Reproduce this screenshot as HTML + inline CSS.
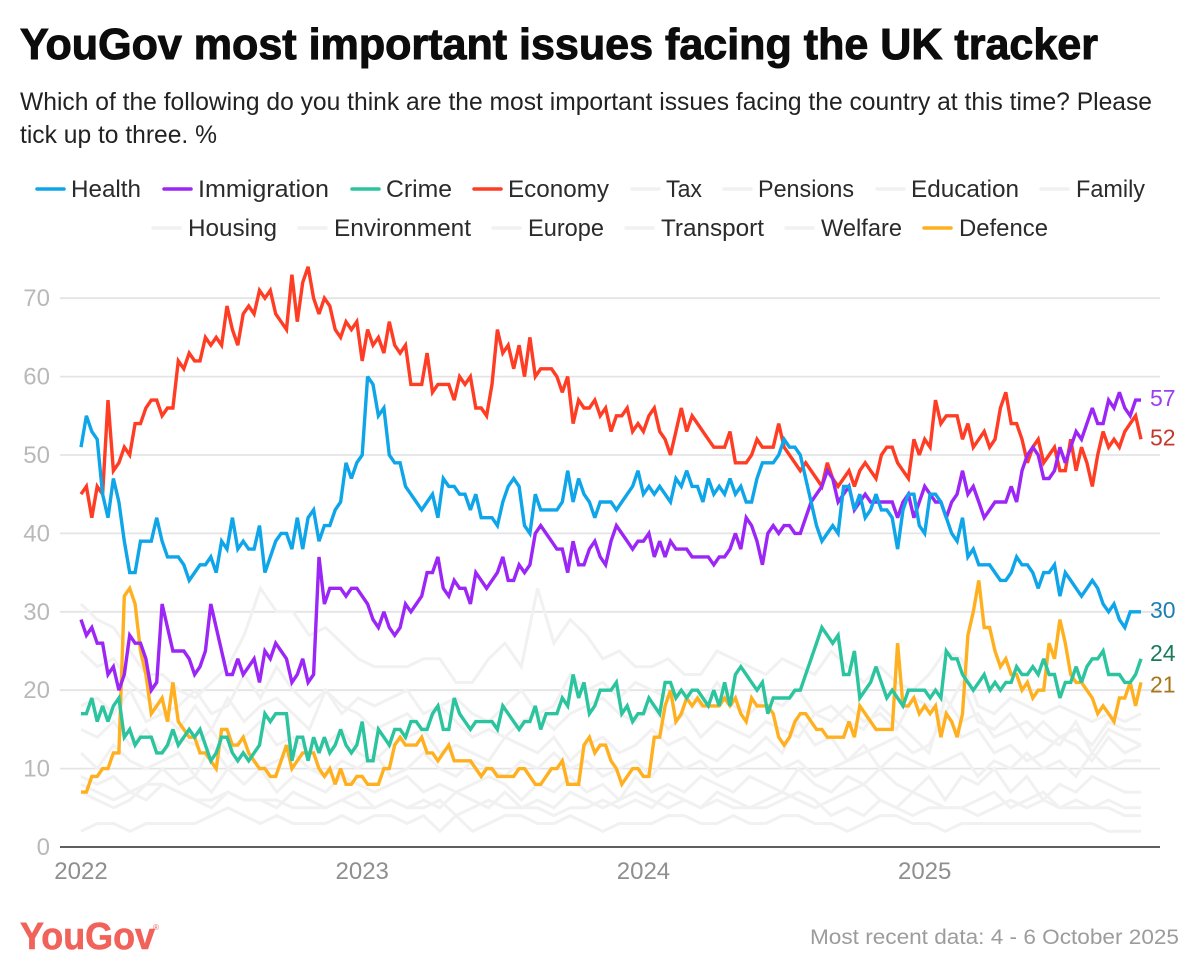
<!DOCTYPE html>
<html lang="en">
<head>
<meta charset="utf-8">
<title>YouGov most important issues facing the UK tracker</title>
<style>
html,body{margin:0;padding:0;background:#fff;width:1199px;height:975px;overflow:hidden}
svg{display:block;font-family:"Liberation Sans",sans-serif}
.lg{font-size:24px;fill:#2b2b2b}
</style>
</head>
<body>
<svg id="chart" xmlns="http://www.w3.org/2000/svg" width="1199" height="975" viewBox="0 0 1199 975">
<rect width="1199" height="975" fill="#fff"/>
<text x="20" y="59" font-size="44" font-weight="700" fill="#0c0c0c" stroke="#0c0c0c" stroke-width="1" textLength="1078" lengthAdjust="spacingAndGlyphs">YouGov most important issues facing the UK tracker</text>
<text x="20" y="110" font-size="25" fill="#222" textLength="1132" lengthAdjust="spacingAndGlyphs">Which of the following do you think are the most important issues facing the country at this time? Please</text>
<text x="20" y="143" font-size="25" fill="#222" textLength="197" lengthAdjust="spacingAndGlyphs">tick up to three. %</text>

<g stroke-linecap="round">
<g><line x1="37" x2="64" y1="189" y2="189" stroke="#0ea5e9" stroke-width="3.5"/><text class="lg" x="71" y="197" textLength="70" lengthAdjust="spacingAndGlyphs">Health</text></g>
<g><line x1="164" x2="191" y1="189" y2="189" stroke="#9b26f6" stroke-width="3.5"/><text class="lg" x="198" y="197" textLength="131" lengthAdjust="spacingAndGlyphs">Immigration</text></g>
<g><line x1="352" x2="379" y1="189" y2="189" stroke="#2cc49e" stroke-width="3.5"/><text class="lg" x="386" y="197" textLength="66" lengthAdjust="spacingAndGlyphs">Crime</text></g>
<g><line x1="474" x2="501" y1="189" y2="189" stroke="#ff3d24" stroke-width="3.5"/><text class="lg" x="508" y="197" textLength="101" lengthAdjust="spacingAndGlyphs">Economy</text></g>
<g><line x1="632" x2="659" y1="189" y2="189" stroke="#f1f1f1" stroke-width="3.5"/><text class="lg" x="666" y="197" textLength="36" lengthAdjust="spacingAndGlyphs">Tax</text></g>
<g><line x1="724" x2="751" y1="189" y2="189" stroke="#f1f1f1" stroke-width="3.5"/><text class="lg" x="758" y="197" textLength="96" lengthAdjust="spacingAndGlyphs">Pensions</text></g>
<g><line x1="877" x2="904" y1="189" y2="189" stroke="#f1f1f1" stroke-width="3.5"/><text class="lg" x="911" y="197" textLength="108" lengthAdjust="spacingAndGlyphs">Education</text></g>
<g><line x1="1041" x2="1068" y1="189" y2="189" stroke="#f1f1f1" stroke-width="3.5"/><text class="lg" x="1076" y="197" textLength="69" lengthAdjust="spacingAndGlyphs">Family</text></g>
<g><line x1="153" x2="180" y1="228" y2="228" stroke="#f1f1f1" stroke-width="3.5"/><text class="lg" x="188" y="236" textLength="89" lengthAdjust="spacingAndGlyphs">Housing</text></g>
<g><line x1="299" x2="326" y1="228" y2="228" stroke="#f1f1f1" stroke-width="3.5"/><text class="lg" x="334" y="236" textLength="137" lengthAdjust="spacingAndGlyphs">Environment</text></g>
<g><line x1="493" x2="520" y1="228" y2="228" stroke="#f1f1f1" stroke-width="3.5"/><text class="lg" x="528" y="236" textLength="76" lengthAdjust="spacingAndGlyphs">Europe</text></g>
<g><line x1="626" x2="653" y1="228" y2="228" stroke="#f1f1f1" stroke-width="3.5"/><text class="lg" x="661" y="236" textLength="103" lengthAdjust="spacingAndGlyphs">Transport</text></g>
<g><line x1="786" x2="813" y1="228" y2="228" stroke="#f1f1f1" stroke-width="3.5"/><text class="lg" x="821" y="236" textLength="81" lengthAdjust="spacingAndGlyphs">Welfare</text></g>
<g><line x1="924" x2="951" y1="228" y2="228" stroke="#ffb020" stroke-width="3.5"/><text class="lg" x="959" y="236" textLength="89" lengthAdjust="spacingAndGlyphs">Defence</text></g>
</g>

<g id="grid"></g>
<g id="yticks"></g>
<g id="xticks"></g>
<g id="series"></g>
<g id="endlabels"></g>

<g>
<text x="20" y="949" font-size="38" font-weight="700" fill="#f0625a" stroke="#f0625a" stroke-width="0.6" textLength="135" lengthAdjust="spacingAndGlyphs">YouGov</text>
<text x="153" y="930" font-size="8" fill="#f0625a">®</text>
</g>
<text x="810" y="944" font-size="21" fill="#9c9c9c" textLength="369" lengthAdjust="spacingAndGlyphs">Most recent data: 4 - 6 October 2025</text>
</svg>

<script>
const yTicks = [0,10,20,30,40,50,60,70];
const yearLabels = ['2022','2023','2024','2025'];
const yearStartPoll = [0,52,104,156];
const totalPolls = 197;

const health = [51,55,53,52,45,42,47,44,39,35,
35,39,39,39,42,39,37,37,37,36,
34,35,36,36,37,35,39,38,42,38,
39,38,38,41,35,37,39,40,40,38,
42,38,42,43,39,41,41,43,44,49,
47,49,50,60,59,55,56,50,49,49,
46,45,44,43,44,45,42,47,46,46,
45,45,43,45,42,42,42,41,44,46,
47,46,41,40,45,43,43,43,43,44,
48,44,47,45,44,42,44,44,44,43,
44,45,46,48,45,46,45,46,45,44,
47,46,48,46,46,44,47,45,46,45,
47,45,46,44,44,47,49,49,49,50,
52,51,51,50,47,44,41,39,40,41,
40,46,46,43,45,42,43,45,43,43,
42,38,43,45,45,41,40,45,45,44,
42,40,39,42,37,38,36,36,36,35,
34,34,35,37,36,36,35,33,35,35,
36,32,35,34,33,32,33,34,33,31,
30,31,29,28,30,30,30];

const immigration = [29,27,28,26,26,22,23,20,22,27,
26,26,24,20,21,31,28,25,25,25,
24,22,23,25,31,28,25,22,22,24,
22,23,24,21,25,24,26,25,24,21,
22,24,21,22,37,31,33,33,33,32,
33,33,32,31,29,28,30,28,27,28,
31,30,31,32,35,35,37,33,32,34,
33,33,31,35,34,33,34,35,37,34,
34,36,35,36,40,41,40,39,38,38,
35,39,36,36,38,39,37,36,39,41,
40,39,38,39,39,40,37,39,37,39,
38,38,38,37,37,37,37,36,37,37,
38,40,38,42,41,39,36,40,41,40,
41,41,40,40,42,44,45,46,48,47,
44,45,46,43,44,45,44,44,44,44,
44,42,44,45,42,44,46,45,44,44,
42,44,45,48,45,46,44,42,43,44,
44,44,46,44,48,50,51,50,47,47,
48,51,49,51,53,52,54,56,54,54,
57,56,58,56,55,57,57];

const crime = [17,17,19,16,18,16,18,19,14,15,
13,14,14,14,12,12,13,15,13,14,
15,14,15,13,11,12,14,14,12,11,
12,11,12,13,17,16,17,17,17,11,
14,14,11,14,12,14,12,13,15,13,
12,13,16,11,11,15,14,13,15,15,
14,16,16,15,15,17,18,15,15,19,
17,16,15,16,16,16,16,15,18,17,
16,15,16,16,18,15,17,17,17,19,
18,22,19,21,17,18,20,20,20,21,
17,18,16,17,17,19,18,17,21,21,
19,20,19,20,20,19,18,20,18,21,
18,22,23,22,21,20,21,17,19,19,
19,19,20,20,22,24,26,28,27,26,
27,22,22,25,19,20,21,23,21,19,
20,19,18,20,20,20,20,19,20,19,
25,24,24,22,21,20,21,22,20,21,
20,21,21,23,22,22,23,22,24,22,
22,19,21,21,23,21,23,24,24,25,
22,22,22,21,21,22,24];

const economy = [45,46,42,46,45,57,48,49,51,50,
54,54,56,57,57,55,56,56,62,61,
63,62,62,65,64,65,64,69,66,64,
68,69,68,71,70,71,68,67,66,73,
67,72,74,70,68,70,69,66,65,67,
66,67,62,66,64,65,63,67,64,63,
64,59,59,59,63,58,59,59,59,57,
60,59,60,56,56,55,59,66,63,64,
61,64,60,65,60,61,61,61,60,58,
60,54,57,56,56,57,55,56,53,55,
55,56,53,54,53,55,56,53,52,50,
53,56,53,55,54,53,52,51,51,51,
53,49,49,49,50,52,51,51,51,54,
51,50,49,48,49,48,47,46,49,47,
46,47,48,46,48,49,48,47,50,51,
51,49,48,47,52,50,52,51,57,54,
55,55,55,52,54,51,52,53,51,52,
56,58,54,54,52,49,51,52,49,50,
51,48,48,52,48,51,49,46,50,53,
51,52,51,53,54,55,52];

const defence = [7,7,9,9,10,10,12,12,32,33,
31,25,22,17,18,19,16,21,16,15,
14,14,12,12,11,10,15,15,13,13,
14,12,11,10,10,9,9,11,13,10,
11,12,12,12,10,9,10,8,10,8,
8,9,9,8,8,8,10,10,13,14,
13,13,13,14,12,12,11,12,13,11,
11,11,11,10,9,10,10,9,9,9,
9,10,10,9,8,8,9,10,10,11,
8,8,8,13,14,12,13,13,11,10,
8,9,10,10,9,9,14,14,18,20,
16,17,19,18,19,18,18,18,18,19,
18,19,17,16,19,18,18,18,17,14,
13,14,16,17,17,16,15,15,14,14,
14,14,16,14,18,17,16,15,15,15,
15,26,18,18,19,17,18,17,18,14,
17,16,14,17,27,30,34,28,28,25,
23,24,22,22,20,21,19,20,20,26,
24,29,26,22,21,21,20,19,17,18,
17,16,19,19,21,18,21];

/* Background issues, read at roughly every third poll */
const tax = [31,29,28,25,22,22,20,19,21,23,27,33,30,30,27,28,26,24,23,23,23,24,24,21,21,24,26,23,33,26,29,27,24,25,23,23,24,22,22,25,24,23,22,24,23,22,25,23,21,23,21,20,22,25,24,18,17,19,18,17,18,17,16,17,16,17];
const pensions = [25,23,24,21,19,17,18,20,17,18,22,19,23,20,18,20,17,19,18,19,20,17,18,19,17,16,18,20,17,18,22,20,21,19,21,20,19,20,18,21,18,17,19,18,20,17,16,18,16,17,15,19,18,17,21,16,15,17,14,16,14,15,13,16,15,15];
const education = [18,19,17,20,16,17,15,18,15,19,16,18,19,17,15,20,18,17,15,16,17,15,18,16,14,15,14,16,17,15,17,18,19,17,16,18,15,17,14,16,15,14,16,15,14,17,18,16,15,18,16,14,12,19,16,17,14,15,16,14,13,16,12,15,14,13];
const family = [15,14,16,13,15,12,14,13,15,12,14,16,13,14,12,13,15,12,11,13,14,15,12,13,12,11,14,13,12,14,11,13,14,12,13,15,13,14,12,11,13,12,14,12,16,13,14,11,12,13,14,12,13,17,14,15,12,13,11,12,14,13,11,14,12,13];
const housing = [12,10,13,11,10,11,12,9,13,10,12,10,11,12,10,9,11,10,12,9,10,12,10,9,11,10,9,11,10,12,10,11,9,10,11,9,12,10,11,9,10,11,12,10,11,9,10,11,13,10,12,11,10,11,12,9,11,10,12,10,11,9,12,10,11,11];
const environment = [9,8,9,7,8,10,8,9,7,10,8,10,7,9,8,7,9,8,7,8,9,7,8,7,8,9,8,6,8,7,9,7,8,6,9,7,8,7,9,8,7,9,8,7,10,8,7,9,8,10,8,7,9,6,9,8,10,7,9,6,8,7,9,8,7,7];
const europe = [8,7,6,7,6,8,7,6,5,7,6,6,5,7,6,5,6,7,5,6,5,6,5,7,6,5,7,5,6,5,7,6,5,6,7,6,5,6,5,7,6,5,6,7,6,5,6,7,8,6,5,7,6,5,5,6,7,5,6,7,5,6,5,6,5,5];
const transport = [7,6,5,6,8,8,7,6,6,7,6,6,6,5,5,5,6,5,5,6,5,5,6,4,5,6,5,5,5,4,5,5,6,5,6,5,7,6,5,6,5,5,5,6,7,6,4,5,4,6,5,4,5,5,5,4,5,6,5,6,5,5,5,5,4,4];
const welfare = [2,3,3,2,3,3,3,3,4,5,4,3,4,3,3,3,4,3,4,4,3,4,2,4,2,3,4,4,3,3,4,3,2,3,3,3,4,4,3,3,4,3,3,4,4,3,3,2,3,4,4,3,3,2,3,3,3,3,3,3,3,3,3,2,2,2];

const NS = 'http://www.w3.org/2000/svg';
const plotLeft = 81, plotRight = 1141, plotBottom = 847, pxPerUnit = 7.84;
const axisLeft = 60, axisRight = 1160;

function xScale(poll){ return plotLeft + poll * (plotRight - plotLeft) / (totalPolls - 1); }
function yScale(v){ return plotBottom - v * pxPerUnit; }
function make(tag, parent){ const el = document.createElementNS(NS, tag); parent.appendChild(el); return el; }

const gridG = document.getElementById('grid');
const yG = document.getElementById('yticks');
const xG = document.getElementById('xticks');
const seriesG = document.getElementById('series');
const endG = document.getElementById('endlabels');

yTicks.forEach(function(t){
  if (t !== 0) {
    const ln = make('line', gridG);
    
    
    ln.setAttribute('x1', axisLeft); ln.setAttribute('x2', axisRight);
    ln.setAttribute('y1', yScale(t)); ln.setAttribute('y2', yScale(t));
    ln.setAttribute('stroke', '#e4e4e4'); ln.setAttribute('stroke-width', '1.8');
  }
  const tx = make('text', yG);
  
  
  tx.setAttribute('x', 50); tx.setAttribute('y', yScale(t) + 8);
  tx.setAttribute('text-anchor', 'end');
  tx.setAttribute('font-size', '24');
  tx.setAttribute('fill', '#b9b9b9');
  tx.textContent = t;
});

yearLabels.forEach(function(lab, i){
  const tx = make('text', xG);
  
  
  tx.setAttribute('x', xScale(yearStartPoll[i]));
  tx.setAttribute('y', 879);
  tx.setAttribute('text-anchor', 'middle');
  tx.setAttribute('font-size', '24');
  tx.setAttribute('fill', '#8f8f8f');
  tx.textContent = lab;
});

function drawLine(name, values, color, width){
  const step = (totalPolls - 1) / (values.length - 1);
  const pts = values.map(function(v, i){ return xScale(i * step).toFixed(1) + ',' + yScale(v).toFixed(1); }).join(' ');
  const pl = make('polyline', seriesG);
  
  
  pl.setAttribute('points', pts);
  pl.setAttribute('fill', 'none');
  pl.setAttribute('stroke', color);
  pl.setAttribute('stroke-width', width);
  pl.setAttribute('stroke-linejoin', 'miter');
  pl.setAttribute('stroke-miterlimit', '3');
}

[['tax',tax],['pensions',pensions],['education',education],['family',family],['housing',housing],['environment',environment],['europe',europe],['transport',transport],['welfare',welfare]].forEach(function(s){
  drawLine(s[0], s[1], '#f1f1f1', 3);
});

const axisLine = make('line', seriesG);


axisLine.setAttribute('x1', axisLeft); axisLine.setAttribute('x2', axisRight);
axisLine.setAttribute('y1', yScale(0)); axisLine.setAttribute('y2', yScale(0));
axisLine.setAttribute('stroke', '#2a2a2a'); axisLine.setAttribute('stroke-width', '1.6');

drawLine('defence', defence, '#ffb020', 3.4);
drawLine('crime', crime, '#2cc49e', 3.4);
drawLine('economy', economy, '#ff3d24', 3.4);
drawLine('immigration', immigration, '#9b26f6', 3.4);
drawLine('health', health, '#0ea5e9', 3.4);

/* Direct labels read their value from the last point; offsets de-collide the text only */
[['immigration',immigration,'#9b3ff0',-2],['economy',economy,'#c0392b',-2],['health',health,'#1a7fb5',-2],['crime',crime,'#1a7a5e',-6],['defence',defence,'#a8761a',2]].forEach(function(s){
  const last = s[1][s[1].length - 1];
  const tx = make('text', endG);
  
  
  tx.setAttribute('x', 1150);
  tx.setAttribute('y', yScale(last) + 8 + s[3]);
  tx.setAttribute('font-size', '23');
  tx.setAttribute('fill', s[2]);
  tx.textContent = last;
});
</script>
</body>
</html>
